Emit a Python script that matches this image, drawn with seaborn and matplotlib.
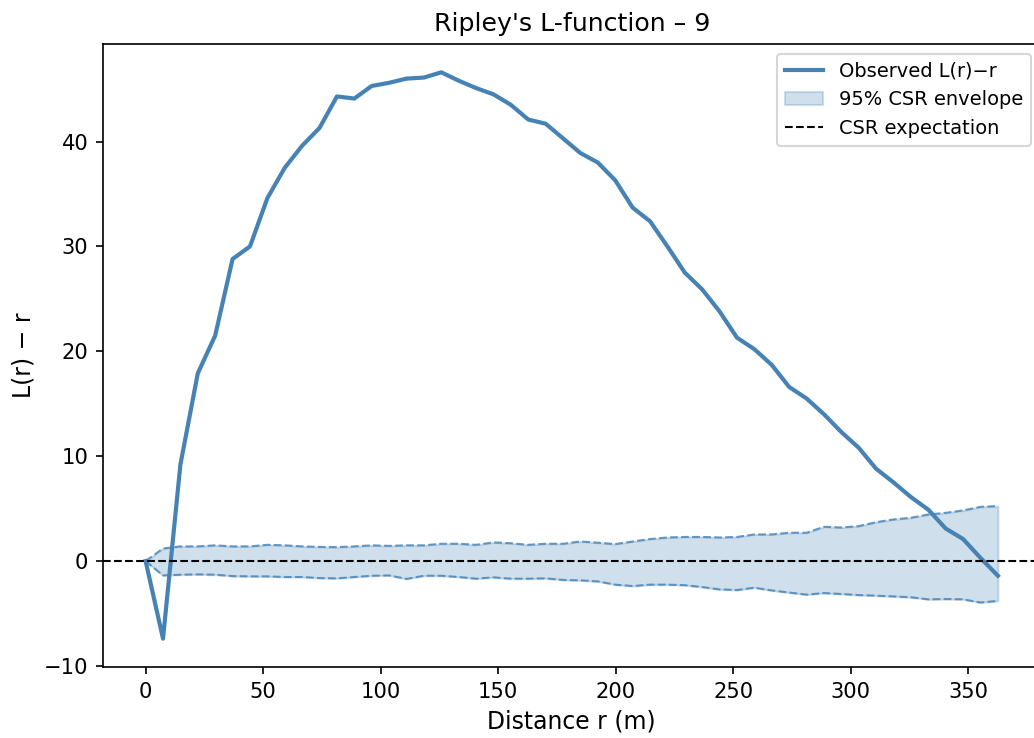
import numpy as np
import pandas as pd
import matplotlib
matplotlib.use("Agg")
import matplotlib.pyplot as plt
import seaborn as sns

# Distance grid (m)
r_values = [0.0, 7.4, 14.8, 22.2, 29.6, 37.0, 44.4, 51.8, 59.2, 66.6,
            74.0, 81.4, 88.8, 96.2, 103.6, 111.0, 118.4, 125.8, 133.2, 140.6,
            148.0, 155.4, 162.8, 170.2, 177.6, 185.0, 192.4, 199.8, 207.2, 214.6,
            222.0, 229.4, 236.8, 244.2, 251.6, 259.0, 266.4, 273.8, 281.2, 288.6,
            296.0, 303.4, 310.8, 318.2, 325.6, 333.0, 340.4, 347.8, 355.2, 362.6]

# Observed L(r) - r
observed = [0.0, -7.4, 9.2, 17.9, 21.5, 28.8, 30.0, 34.6, 37.5, 39.6,
            41.3, 44.3, 44.1, 45.3, 45.6, 46.0, 46.1, 46.6, 45.8, 45.1,
            44.5, 43.5, 42.1, 41.7, 40.3, 38.9, 38.0, 36.3, 33.7, 32.4,
            30.0, 27.5, 25.9, 23.8, 21.3, 20.2, 18.7, 16.6, 15.5, 14.0,
            12.3, 10.8, 8.8, 7.5, 6.1, 4.9, 3.1, 2.1, 0.3, -1.4]

# 95% CSR envelope
env_upper = [0.0, 1.2, 1.4, 1.4, 1.5, 1.4, 1.4, 1.55, 1.5, 1.4,
             1.35, 1.33, 1.4, 1.5, 1.45, 1.5, 1.5, 1.65, 1.65, 1.55,
             1.78, 1.7, 1.55, 1.65, 1.65, 1.87, 1.75, 1.62, 1.87, 2.1,
             2.25, 2.3, 2.3, 2.25, 2.3, 2.54, 2.54, 2.7, 2.7, 3.27,
             3.2, 3.33, 3.71, 3.97, 4.13, 4.44, 4.6, 4.83, 5.17, 5.24]
env_lower = [0.0, -1.37, -1.3, -1.27, -1.3, -1.43, -1.46, -1.46, -1.52, -1.52,
             -1.62, -1.65, -1.52, -1.4, -1.37, -1.7, -1.4, -1.4, -1.52, -1.68,
             -1.55, -1.68, -1.68, -1.65, -1.8, -1.84, -1.94, -2.25, -2.38, -2.25,
             -2.25, -2.3, -2.48, -2.7, -2.76, -2.54, -2.8, -3.0, -3.2, -3.05,
             -3.14, -3.24, -3.3, -3.37, -3.45, -3.65, -3.62, -3.65, -3.95, -3.8]

title_text = "Ripley's L-function \u2013 9"
xlabel_text = "Distance r (m)"
ylabel_text = "L(r) \u2212 r"
label_obs = "Observed L(r)\u2212r"
label_env = "95% CSR envelope"
label_exp = "CSR expectation"

df = pd.DataFrame({"r": r_values, "obs": observed,
                   "lo": env_lower, "hi": env_upper})

color = "steelblue"
fig = plt.figure(figsize=(1034 / 150, 738 / 150), dpi=150)
ax = fig.add_axes([103 / 1034, 1 - 667 / 738, (1040.5 - 103) / 1034, (667 - 44) / 738])

ax.fill_between(df["r"], df["lo"], df["hi"], color=color, alpha=0.25,
                label=label_env)
sns.lineplot(data=df, x="r", y="hi", ax=ax, color=color, lw=1,
             linestyle="--", alpha=0.8, legend=False)
sns.lineplot(data=df, x="r", y="lo", ax=ax, color=color, lw=1,
             linestyle="--", alpha=0.8, legend=False)
sns.lineplot(data=df, x="r", y="obs", ax=ax, color=color, lw=2,
             label=label_obs)
ax.axhline(0, color="black", lw=1, linestyle="--", label=label_exp)

ax.set_title(title_text, fontsize=12.1)
ax.set_xlabel(xlabel_text, fontsize=11.3)
ax.set_ylabel(ylabel_text, fontsize=11.3)
ax.tick_params(labelsize=10.1)

handles, labels = ax.get_legend_handles_labels()
order = [labels.index(label_obs), labels.index(label_env), labels.index(label_exp)]
ax.legend([handles[i] for i in order], [labels[i] for i in order],
          loc="upper right", fontsize=9.3)

fig.savefig("out.png", dpi=150)
